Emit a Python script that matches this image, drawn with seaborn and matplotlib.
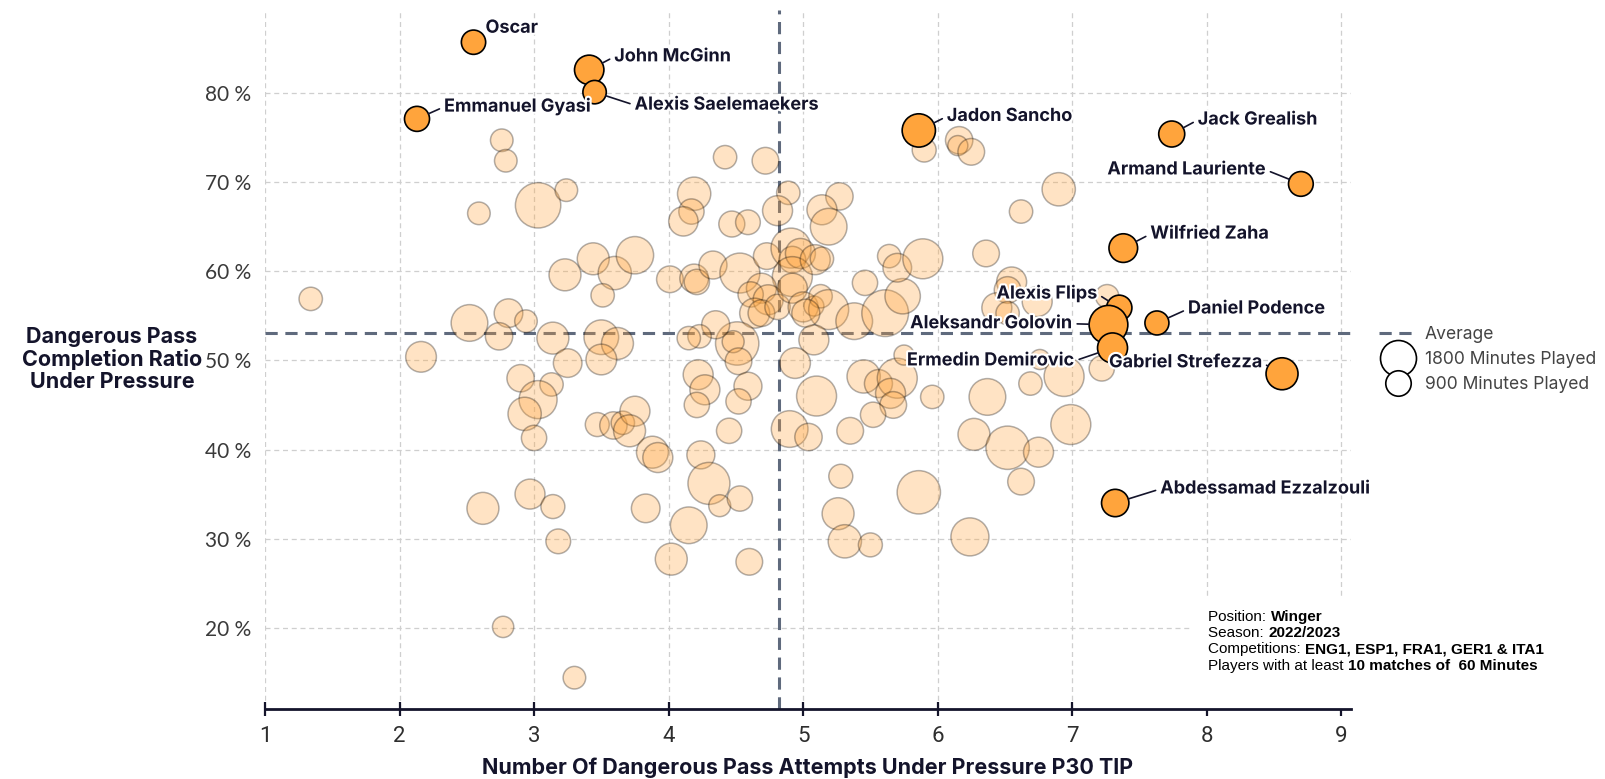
import pandas as pd
import matplotlib.pyplot as plt
import matplotlib.patheffects as pe
from matplotlib.lines import Line2D
from matplotlib.patches import Rectangle
import seaborn as sns

# highlighted players
names = ['Oscar', 'John McGinn', 'Alexis Saelemaekers', 'Emmanuel Gyasi', 'Jadon Sancho',
         'Jack Grealish', 'Armand Lauriente', 'Wilfried Zaha', 'Alexis Flips', 'Aleksandr Golovin',
         'Daniel Podence', 'Ermedin Demirovic', 'Gabriel Strefezza', 'Abdessamad Ezzalzouli']
top_x = [2.55, 3.41, 3.45, 2.13, 5.86, 7.74, 8.70, 7.38, 7.35, 7.27, 7.63, 7.30, 8.56, 7.32]
top_y = [85.7, 82.6, 80.1, 77.1, 75.8, 75.4, 69.8, 62.6, 55.9, 54.0, 54.2, 51.4, 48.5, 34.0]
top_min = [820, 1200, 760, 870, 1540, 940, 850, 1140, 890, 2080, 800, 1250, 1420, 1040]

# all other wingers
other_x = [2.76, 2.79, 3.03, 3.24, 2.59, 1.34, 2.52, 2.81, 2.94, 2.74, 3.14, 2.16, 3.23, 3.44,
           3.60, 3.75, 3.51, 3.50, 3.62, 3.50, 3.25, 2.90, 3.13, 3.03, 2.93, 3.00, 3.47, 3.59,
           3.66, 3.75, 3.71, 3.88, 3.92, 2.62, 2.97, 3.14, 3.18, 3.83, 2.77, 3.30,
           5.90, 6.16, 6.15, 6.25, 4.42, 4.72, 4.19, 4.17, 4.11, 4.47, 4.59, 4.89, 4.81, 5.27,
           5.14, 5.19, 6.62, 4.01, 4.19, 4.21, 4.33, 4.53, 4.73, 4.91, 4.92, 4.98, 4.92, 5.09,
           5.14, 4.69, 4.61, 4.74, 4.64, 4.69, 4.81, 4.92, 5.00, 5.08, 5.13, 5.19, 5.02, 5.38,
           5.61, 5.74, 5.46, 5.64, 5.70, 5.89, 6.36, 6.55, 6.52, 6.44, 6.52, 5.08, 4.94, 4.51,
           4.48, 4.52, 4.35, 4.23, 4.15, 4.22, 4.27, 4.59, 4.21, 4.52, 5.10, 5.45, 5.56, 5.70,
           5.65, 5.67, 5.96, 6.37, 5.75,
           4.45, 4.24, 4.30, 4.38, 4.53, 4.15, 4.02, 4.60, 4.90, 5.04, 5.35, 5.52, 5.28, 5.26,
           5.31, 5.50, 5.86, 6.27, 6.52, 6.62, 6.24,
           6.90, 7.26, 6.74, 6.76, 7.22, 6.94, 6.69, 6.99, 6.75]
other_y = [74.7, 72.4, 67.4, 69.1, 66.5, 56.9, 54.2, 55.3, 54.4, 52.7, 52.5, 50.4, 59.6, 61.4,
           59.8, 61.8, 57.3, 52.6, 51.9, 50.1, 49.7, 48.0, 47.3, 45.6, 44.0, 41.3, 42.8, 42.7,
           43.0, 44.3, 42.1, 39.7, 39.1, 33.4, 35.0, 33.6, 29.7, 33.4, 20.1, 14.4,
           73.6, 74.7, 74.1, 73.4, 72.8, 72.4, 68.7, 66.7, 65.6, 65.3, 65.5, 68.8, 66.8, 68.4,
           66.9, 65.0, 66.7, 59.1, 59.2, 58.8, 60.7, 59.8, 61.7, 62.6, 61.3, 62.0, 59.4, 61.3,
           61.4, 58.1, 57.4, 56.8, 55.3, 55.3, 56.0, 58.1, 56.0, 56.1, 57.2, 55.7, 55.3, 54.4,
           55.3, 57.2, 58.7, 61.7, 60.4, 61.4, 62.0, 58.8, 57.9, 55.9, 55.3, 52.3, 49.7, 51.9,
           52.1, 49.9, 54.0, 52.7, 52.5, 48.4, 46.7, 47.1, 45.0, 45.4, 46.0, 48.2, 47.4, 48.0,
           46.3, 45.0, 45.9, 45.9, 50.6,
           42.1, 39.4, 36.2, 33.7, 34.5, 31.5, 27.7, 27.4, 42.3, 41.4, 42.1, 43.9, 37.0, 32.8,
           29.7, 29.3, 35.2, 41.7, 40.2, 36.4, 30.2,
           69.2, 57.2, 56.6, 50.1, 49.1, 48.2, 47.4, 42.8, 39.7]
other_min = [710, 710, 2860, 710, 710, 760, 1870, 1140, 710, 1040, 1420, 1310, 1420, 1420,
             1540, 1940, 760, 1670, 1420, 1310, 1140, 1040, 760, 2010, 1540, 890, 800, 1040,
             760, 1250, 1420, 1420, 1250, 1420, 1250, 800, 850, 1140, 630, 710,
             800, 1040, 560, 990, 760, 990, 1540, 890, 1200, 940, 850, 760, 1250, 1040,
             1250, 1870, 760, 990, 1140, 890, 1090, 2220, 990, 2220, 990, 1250, 2220, 1250,
             760, 1250, 890, 1250, 1250, 990, 890, 1250, 1250, 560, 760, 2220, 1090, 1870,
             3030, 1740, 890, 760, 1140, 2220, 990, 1250, 990, 1250, 760, 1250, 1310, 2610,
             670, 990, 1090, 760, 760, 1250, 1250, 1090, 890, 890, 2220, 1540, 1090, 2220,
             1250, 990, 760, 1870, 560,
             890, 1090, 2450, 670, 890, 1870, 1420, 990, 1870, 1040, 990, 890, 800, 1420,
             1540, 800, 2610, 1420, 2610, 990, 2010,
             1540, 760, 1250, 560, 890, 2220, 760, 2220, 1250]

x_avg = 4.82
y_avg = 53.1
legend_minutes = [1800, 900]

# label offsets in pixels from the point (dx, dy, alignment)
label_pos = {
    'Oscar': (12, 14, 'left'), 'John McGinn': (25, 13, 'left'),
    'Alexis Saelemaekers': (40, -13, 'left'), 'Emmanuel Gyasi': (27, 12, 'left'),
    'Jadon Sancho': (28, 14, 'left'), 'Jack Grealish': (26, 14, 'left'),
    'Armand Lauriente': (-35, 14, 'right'), 'Wilfried Zaha': (27, 14, 'left'),
    'Alexis Flips': (-22, 14, 'right'), 'Aleksandr Golovin': (-36, 1, 'right'),
    'Daniel Podence': (31, 14, 'left'), 'Ermedin Demirovic': (-38, -13, 'right'),
    'Gabriel Strefezza': (-20, 11, 'right'), 'Abdessamad Ezzalzouli': (45, 14, 'left'),
}

orange = '#ffa43c'
navy = '#14142b'
avg_col = '#5f6a7d'
k = 0.373  # marker area (pt^2) per minute played

df_other = pd.DataFrame({'x': other_x, 'y': other_y, 'minutes': other_min})
df_top = pd.DataFrame({'x': top_x, 'y': top_y, 'minutes': top_min, 'name': names})

sns.set_style('white')
plt.rcParams['font.family'] = ['Inter', 'DejaVu Sans']

fig = plt.figure(figsize=(16.06, 7.79), dpi=100)
ax = fig.add_axes([0.165, 0.09, 0.676, 0.897])

sns.scatterplot(data=df_other, x='x', y='y', size='minutes', size_norm=(0, 4000),
                sizes=(0, 4000 * k), color=orange, alpha=0.3, edgecolor='black',
                linewidth=1.1, legend=False, ax=ax, zorder=3)
sns.scatterplot(data=df_top, x='x', y='y', size='minutes', size_norm=(0, 4000),
                sizes=(0, 4000 * k), color=orange, edgecolor='black',
                linewidth=1.2, legend=False, ax=ax, zorder=5)

ax.axvline(x_avg, color=avg_col, ls=(0, (4, 2.5)), lw=2.2, zorder=2)
ax.axhline(y_avg, color=avg_col, ls=(0, (4, 2.5)), lw=2.2, zorder=2)

for _, r in df_top.iterrows():
    dx, dy, ha = label_pos[r['name']]
    rad = (r['minutes'] * k) ** 0.5 / 2
    arrow = None
    if (dx ** 2 + dy ** 2) ** 0.5 > 20:
        arrow = dict(arrowstyle='-', color=navy, lw=1.2, shrinkA=1, shrinkB=rad,
                     relpos=(0, 0.5) if ha == 'left' else (1, 0.5))
    ax.annotate(r['name'], xy=(r['x'], r['y']), xytext=(dx, dy), textcoords='offset pixels',
                ha=ha, va='center', fontsize=13, fontweight='bold', color=navy, zorder=7,
                path_effects=[pe.withStroke(linewidth=3, foreground='white')],
                arrowprops=arrow)

ax.set_xlim(1, 9.07)
ax.set_ylim(10.9, 89.3)
ax.set_xticks(range(1, 10))
ax.set_yticks(range(20, 90, 10))
ax.set_yticklabels([f'{v} %' for v in range(20, 90, 10)])
ax.grid(True, ls=(0, (4, 3)), color='#cfcfcf', lw=0.9)
ax.set_axisbelow(True)
for s in ['left', 'top', 'right']:
    ax.spines[s].set_visible(False)
ax.spines['bottom'].set_color(navy)
ax.spines['bottom'].set_linewidth(2)
ax.tick_params(axis='x', bottom=True, direction='inout', length=10, width=1.6, color=navy,
               pad=7, labelsize=16, labelcolor='#2e2e2e')
ax.tick_params(axis='y', left=False, length=0, pad=10, labelsize=15, labelcolor='#3a3a3a')
for t in ax.get_xticklabels():
    t.set_fontfamily(['Roboto', 'DejaVu Sans'])
    t.set_fontstretch('condensed')
for t in ax.get_yticklabels():
    t.set_fontfamily(['Lato', 'DejaVu Sans'])

ax.set_xlabel('Number Of Dangerous Pass Attempts Under Pressure P30 TIP', fontsize=15.5,
              fontweight='bold', color=navy)
ax.xaxis.set_label_coords(0.5, -0.084)
ax.xaxis.label.set_va('center')
ax.set_ylabel('Dangerous Pass\nCompletion Ratio\nUnder Pressure', fontsize=15.5,
              fontweight='bold', color=navy, rotation=0, ha='center', va='center',
              linespacing=1.1)
ax.yaxis.set_label_coords(-0.141, 0.5)

# legend
handles = [Line2D([], [], color=avg_col, ls=(0, (4, 2.5)), lw=2.2)]
labels = ['Average']
for m in legend_minutes:
    handles.append(Line2D([], [], marker='o', ls='', markerfacecolor='white',
                          markeredgecolor='black', markeredgewidth=1.2,
                          markersize=(m * k) ** 0.5))
    labels.append(f'{m} Minutes Played')
leg = ax.legend(handles, labels, loc='center left', bbox_to_anchor=(1.012, 0.5),
                frameon=False, fontsize=12.6, labelspacing=0.45, handlelength=2.1,
                handletextpad=0.5, labelcolor='#444444')

# info box
ax.add_patch(Rectangle((0.853, 0.0), 0.147, 0.158, transform=ax.transAxes,
                       facecolor='white', edgecolor='none', zorder=1))
info = [('Position: ', 'Winger'), ('Season: ', '2022/2023'),
        ('Competitions: ', 'ENG1, ESP1, FRA1, GER1 & ITA1'),
        ('Players with at least ', '10 matches of  60 Minutes')]
for i, (a, b) in enumerate(info):
    t = ax.text(0.869, 0.132 - i * 0.0235, a, transform=ax.transAxes, fontsize=11,
                family=['Liberation Sans', 'DejaVu Sans'], color='black', va='center', zorder=8)
    ax.annotate(b, xy=(1, 0.5), xycoords=t, va='center', ha='left', fontsize=11,
                family=['Liberation Sans', 'DejaVu Sans'], fontweight='bold', color='black',
                zorder=8)

fig.savefig('out.png', dpi=100)
